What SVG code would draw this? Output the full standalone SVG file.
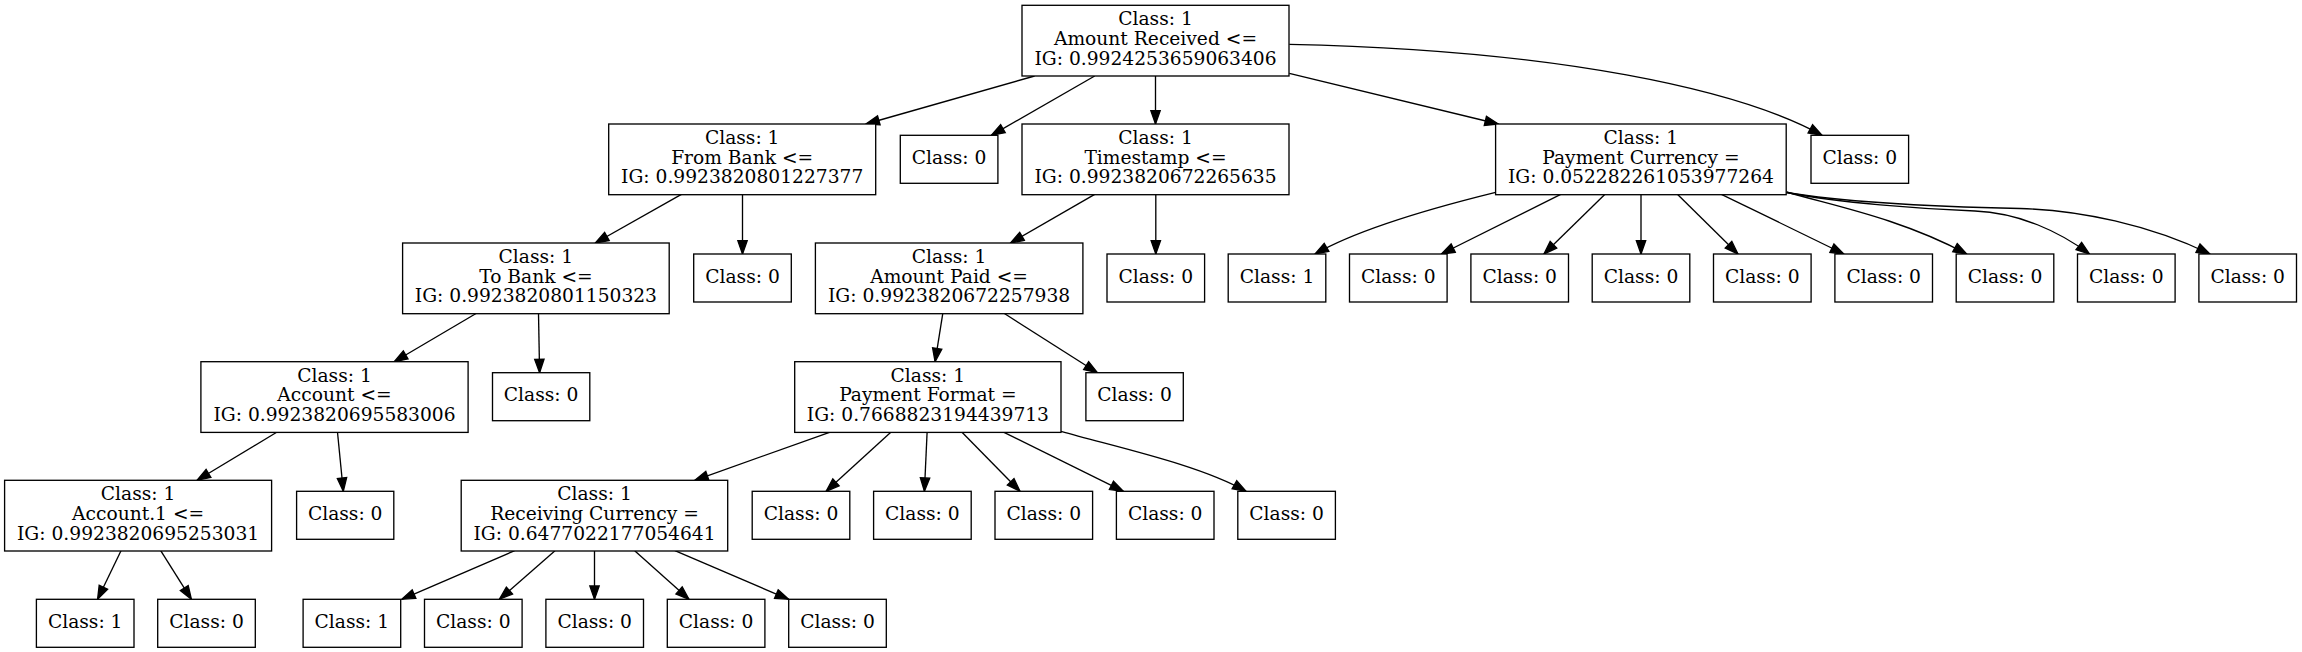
<svg xmlns="http://www.w3.org/2000/svg" width="2302" height="652" viewBox="0 0 2302 652">
<style>
.box{fill:#fff;stroke:#000;stroke-width:1.33}
text{font-family:"DejaVu Serif","Liberation Serif",serif;font-size:18.67px;text-anchor:middle;fill:#000}
.e{fill:none;stroke:#000;stroke-width:1.33;marker-end:url(#arr)}
</style>
<defs>
<marker id="arr" markerUnits="userSpaceOnUse" markerWidth="16" markerHeight="12" refX="13.33" refY="4.67" orient="auto" overflow="visible">
<path d="M0,0 L13.33,4.67 L0,9.33 Z" fill="#000" stroke="#000" stroke-width="1.33"/>
</marker>
</defs>
<rect width="2302" height="652" fill="#fff"/>
<g id="edges">
<path class="e" d="M1034.6,76 L866,124"/>
<path class="e" d="M1094.7,76 L991.4,135.3"/>
<path class="e" d="M1155.5,76 L1155.5,124"/>
<path class="e" d="M1289.3,73.3 L1498.3,124"/>
<path class="e" d="M1289.3,44.3 C1560,50 1740,90 1822,135.3"/>
<path class="e" d="M681.4,194.3 L595.3,243"/>
<path class="e" d="M742.5,194.3 L742.5,254"/>
<path class="e" d="M1094.7,194.3 L1010.5,243"/>
<path class="e" d="M1155.8,194.3 L1155.8,254"/>
<path class="e" d="M1495.6,192.3 C1440,206 1360,228 1315,254"/>
<path class="e" d="M1560.7,194.3 L1441.3,254"/>
<path class="e" d="M1605,194.3 L1543.9,254"/>
<path class="e" d="M1641,194.3 L1641,254"/>
<path class="e" d="M1677.4,194.3 L1738,254"/>
<path class="e" d="M1721.4,194.3 L1843.9,254"/>
<path class="e" d="M1786.7,192 C1830,205 1900,218 1966.7,254"/>
<path class="e" d="M1786.7,192.5 C1840,203 1920,209 1975,211 C2020,213 2060,232 2089.5,254"/>
<path class="e" d="M1786.7,192.5 C1850,203 1950,207 2020,208.5 C2080,210 2150,225 2210,254"/>
<path class="e" d="M476.5,313.3 L394.2,361.7"/>
<path class="e" d="M538.5,313.3 L539.6,372.7"/>
<path class="e" d="M942.8,313.3 L935.1,361.7"/>
<path class="e" d="M1004,313.3 L1097.4,372.7"/>
<path class="e" d="M276.7,432.3 L197.1,480.3"/>
<path class="e" d="M337.5,432.3 L343.3,491.3"/>
<path class="e" d="M829.5,432.3 L694.8,480.3"/>
<path class="e" d="M890.8,432.3 L826.1,491.3"/>
<path class="e" d="M927.1,432.3 L924.4,491.3"/>
<path class="e" d="M962,432.3 L1020,491.3"/>
<path class="e" d="M1004,432.3 L1123.4,491.3"/>
<path class="e" d="M1061,431.3 C1120,448 1200,465 1246,491.3"/>
<path class="e" d="M121,550.7 L97.6,599.3"/>
<path class="e" d="M160.7,550.7 L191.4,599.3"/>
<path class="e" d="M514.7,550.7 L401.8,599.3"/>
<path class="e" d="M555,550.7 L499.4,599.3"/>
<path class="e" d="M594.5,550.7 L594.5,599.3"/>
<path class="e" d="M634.7,550.7 L689,599.3"/>
<path class="e" d="M674.9,550.7 L788.6,599.3"/>
</g>
<g id="n_root"><rect class="box" x="1022" y="5.3" width="267" height="70.7"/><text x="1155.5" y="25.4">Class: 1</text><text x="1155.5" y="45.1">Amount Received &lt;=</text><text x="1155.5" y="64.8">IG: 0.9924253659063406</text></g>
<g id="n_frombank"><rect class="box" x="608.7" y="124" width="267" height="70.7"/><text x="742.2" y="144">Class: 1</text><text x="742.2" y="163.7">From Bank &lt;=</text><text x="742.2" y="183.4">IG: 0.9923820801227377</text></g>
<g id="n_l1a"><rect class="box" x="900.3" y="135.3" width="97.6" height="48"/><text x="949.1" y="163.9">Class: 0</text></g>
<g id="n_timestamp"><rect class="box" x="1022" y="124" width="267" height="70.7"/><text x="1155.5" y="144">Class: 1</text><text x="1155.5" y="163.7">Timestamp &lt;=</text><text x="1155.5" y="183.4">IG: 0.9923820672265635</text></g>
<g id="n_paycur"><rect class="box" x="1495.6" y="124" width="290.6" height="70.7"/><text x="1640.9" y="144">Class: 1</text><text x="1640.9" y="163.7">Payment Currency =</text><text x="1640.9" y="183.4">IG: 0.052282261053977264</text></g>
<g id="n_l1b"><rect class="box" x="1811" y="135.3" width="97.6" height="48"/><text x="1859.8" y="163.9">Class: 0</text></g>
<g id="n_tobank"><rect class="box" x="402.6" y="243" width="266.6" height="70.7"/><text x="535.9" y="263">Class: 1</text><text x="535.9" y="282.7">To Bank &lt;=</text><text x="535.9" y="302.4">IG: 0.9923820801150323</text></g>
<g id="n_l2c"><rect class="box" x="693.7" y="254" width="97.6" height="48"/><text x="742.5" y="282.6">Class: 0</text></g>
<g id="n_amountpaid"><rect class="box" x="815.4" y="243" width="267.5" height="70.7"/><text x="949.1" y="263">Class: 1</text><text x="949.1" y="282.7">Amount Paid &lt;=</text><text x="949.1" y="302.4">IG: 0.9923820672257938</text></g>
<g id="n_l2d"><rect class="box" x="1107" y="254" width="97.6" height="48"/><text x="1155.8" y="282.6">Class: 0</text></g>
<g id="n_pc1"><rect class="box" x="1228.2" y="254" width="97.6" height="48"/><text x="1277" y="282.6">Class: 1</text></g>
<g id="n_pc2"><rect class="box" x="1349.5" y="254" width="97.6" height="48"/><text x="1398.3" y="282.6">Class: 0</text></g>
<g id="n_pc3"><rect class="box" x="1470.9" y="254" width="97.6" height="48"/><text x="1519.7" y="282.6">Class: 0</text></g>
<g id="n_pc4"><rect class="box" x="1592.2" y="254" width="97.6" height="48"/><text x="1641" y="282.6">Class: 0</text></g>
<g id="n_pc5"><rect class="box" x="1713.5" y="254" width="97.6" height="48"/><text x="1762.3" y="282.6">Class: 0</text></g>
<g id="n_pc6"><rect class="box" x="1834.9" y="254" width="97.6" height="48"/><text x="1883.7" y="282.6">Class: 0</text></g>
<g id="n_pc7"><rect class="box" x="1956.2" y="254" width="97.6" height="48"/><text x="2005" y="282.6">Class: 0</text></g>
<g id="n_pc8"><rect class="box" x="2077.5" y="254" width="97.6" height="48"/><text x="2126.3" y="282.6">Class: 0</text></g>
<g id="n_pc9"><rect class="box" x="2198.9" y="254" width="97.6" height="48"/><text x="2247.7" y="282.6">Class: 0</text></g>
<g id="n_account"><rect class="box" x="200.9" y="361.7" width="267.2" height="70.7"/><text x="334.5" y="381.7">Class: 1</text><text x="334.5" y="401.4">Account &lt;=</text><text x="334.5" y="421.1">IG: 0.9923820695583006</text></g>
<g id="n_l3e"><rect class="box" x="492.5" y="372.7" width="97.3" height="48"/><text x="541.1" y="401.3">Class: 0</text></g>
<g id="n_payformat"><rect class="box" x="794.7" y="361.7" width="266.3" height="70.7"/><text x="927.9" y="381.7">Class: 1</text><text x="927.9" y="401.4">Payment Format =</text><text x="927.9" y="421.1">IG: 0.7668823194439713</text></g>
<g id="n_l3f"><rect class="box" x="1085.9" y="372.7" width="97.4" height="48"/><text x="1134.6" y="401.3">Class: 0</text></g>
<g id="n_account1"><rect class="box" x="4.6" y="480.3" width="267" height="70.7"/><text x="138.1" y="500.3">Class: 1</text><text x="138.1" y="520">Account.1 &lt;=</text><text x="138.1" y="539.7">IG: 0.9923820695253031</text></g>
<g id="n_l4g"><rect class="box" x="296.6" y="491.3" width="97.2" height="48"/><text x="345.2" y="519.9">Class: 0</text></g>
<g id="n_reccur"><rect class="box" x="461.2" y="480.3" width="266.5" height="70.7"/><text x="594.5" y="500.3">Class: 1</text><text x="594.5" y="520">Receiving Currency =</text><text x="594.5" y="539.7">IG: 0.6477022177054641</text></g>
<g id="n_pf1"><rect class="box" x="752.2" y="491.3" width="97.6" height="48"/><text x="801" y="519.9">Class: 0</text></g>
<g id="n_pf2"><rect class="box" x="873.6" y="491.3" width="97.6" height="48"/><text x="922.4" y="519.9">Class: 0</text></g>
<g id="n_pf3"><rect class="box" x="995" y="491.3" width="97.6" height="48"/><text x="1043.8" y="519.9">Class: 0</text></g>
<g id="n_pf4"><rect class="box" x="1116.4" y="491.3" width="97.6" height="48"/><text x="1165.2" y="519.9">Class: 0</text></g>
<g id="n_pf5"><rect class="box" x="1237.8" y="491.3" width="97.6" height="48"/><text x="1286.6" y="519.9">Class: 0</text></g>
<g id="n_a1l"><rect class="box" x="36.4" y="599.3" width="97.6" height="48"/><text x="85.2" y="627.9">Class: 1</text></g>
<g id="n_a1r"><rect class="box" x="157.7" y="599.3" width="97.6" height="48"/><text x="206.5" y="627.9">Class: 0</text></g>
<g id="n_rc1"><rect class="box" x="303.1" y="599.3" width="97.6" height="48"/><text x="351.9" y="627.9">Class: 1</text></g>
<g id="n_rc2"><rect class="box" x="424.5" y="599.3" width="97.6" height="48"/><text x="473.3" y="627.9">Class: 0</text></g>
<g id="n_rc3"><rect class="box" x="545.9" y="599.3" width="97.6" height="48"/><text x="594.7" y="627.9">Class: 0</text></g>
<g id="n_rc4"><rect class="box" x="667.3" y="599.3" width="97.6" height="48"/><text x="716.1" y="627.9">Class: 0</text></g>
<g id="n_rc5"><rect class="box" x="788.7" y="599.3" width="97.6" height="48"/><text x="837.5" y="627.9">Class: 0</text></g>
</svg>
